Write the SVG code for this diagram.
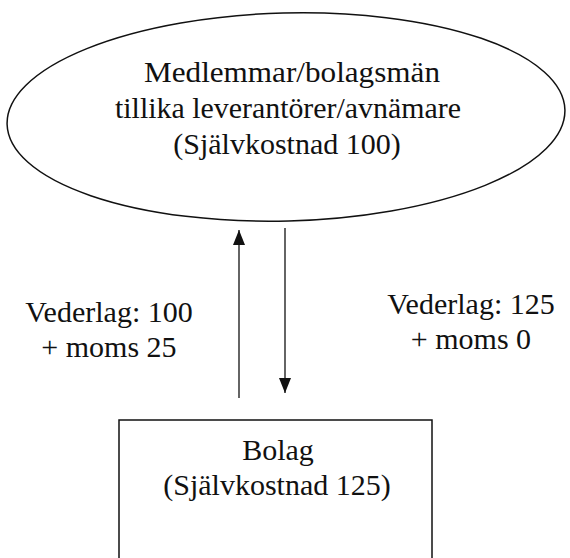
<svg xmlns="http://www.w3.org/2000/svg" width="570" height="558" viewBox="0 0 570 558">
<style>
text{font-family:"Liberation Serif","Times New Roman",serif;font-size:30px;fill:#111;text-anchor:middle}
.shape{fill:#fff;stroke:#111;stroke-width:1.5}
.conn{stroke:#111;stroke-width:1.3;fill:none}
</style>
<defs>
<marker id="ah" viewBox="0 0 15 12" refX="15" refY="6" markerWidth="15" markerHeight="12" markerUnits="userSpaceOnUse" orient="auto">
<path d="M0,0 L15,6 L0,12 z" fill="#111"/>
</marker>
</defs>
<rect width="570" height="558" fill="#fff"/>
<g id="members">
<ellipse class="shape" cx="286" cy="117" rx="279" ry="104" transform="rotate(-1.5 286 117)"/>
<text x="292" y="82" textLength="296" lengthAdjust="spacingAndGlyphs">Medlemmar/bolagsmän</text>
<text x="288" y="118" textLength="346" lengthAdjust="spacingAndGlyphs">tillika leverantörer/avnämare</text>
<text x="287" y="154">(Självkostnad 100)</text>
</g>
<g id="bolag">
<rect class="shape" x="119" y="420" width="313" height="150"/>
<text x="278" y="460">Bolag</text>
<text x="277" y="495">(Självkostnad 125)</text>
</g>
<g id="connectors">
<line class="conn" x1="239" y1="398" x2="239" y2="230" marker-end="url(#ah)"/>
<line class="conn" x1="285" y1="228" x2="285" y2="393" marker-end="url(#ah)"/>
</g>
<g id="labels">
<text x="109" y="322">Vederlag: 100</text>
<text x="109" y="357">+ moms 25</text>
<text x="471" y="314">Vederlag: 125</text>
<text x="471" y="349">+ moms 0</text>
</g>
</svg>
